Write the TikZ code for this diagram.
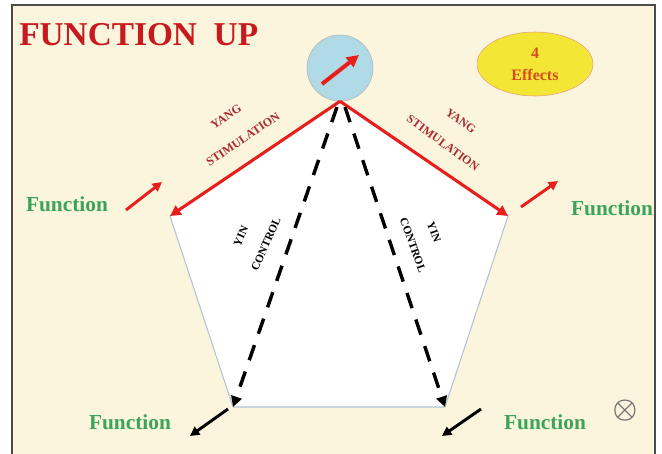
\documentclass[tikz,border=0pt]{standalone}
\usepackage{fontspec}
\setmainfont{Liberation Serif}
\usetikzlibrary{arrows.meta,shapes.geometric}
\definecolor{creme}{RGB}{251,245,221}
\definecolor{rougetitre}{RGB}{200,26,30}
\definecolor{rougeyang}{RGB}{170,42,50}
\definecolor{rougeligne}{RGB}{232,30,28}
\definecolor{vertfct}{RGB}{60,163,92}
\definecolor{bleuciel}{RGB}{176,218,230}
\definecolor{jaune}{RGB}{244,230,52}
\definecolor{orangetxt}{RGB}{212,78,32}
\definecolor{bordpenta}{RGB}{178,196,210}

\begin{document}
\begin{tikzpicture}[x=0.75pt,y=-0.75pt]
\tikzset{fonction/.style={text=vertfct, inner sep=0pt, anchor=base, font=\bfseries\fontsize{16}{18}\selectfont},
  yangtxt/.style={text=rougeyang, inner sep=0pt, font=\bfseries\fontsize{9}{10}\selectfont},
  yintxt/.style={text=black, inner sep=0pt, font=\bfseries\fontsize{8.5}{10}\selectfont},
  fleche/.style={line width=2.2pt, -{Triangle[length=7pt,width=7pt]}},
  cote/.style={rougeligne, line width=2.3pt, -{Triangle[length=8pt,width=8pt]}},
  tiret/.style={line width=2.6pt, dash pattern=on 12pt off 9pt, -{Triangle[length=8pt,width=8pt]}}}
\useasboundingbox (0,0) rectangle (662,454);
\fill[creme] (12,5) rectangle (655,454);
\draw[gray!60!black, line width=0.8pt] (12,454) -- (12,5) -- (655,5) -- (655,454);
% pentagone
\coordinate (haut) at (340,102);
\coordinate (gauche) at (170,216);
\coordinate (droite) at (508,216);
\coordinate (basg) at (233,407);
\coordinate (basd) at (445,407);
\filldraw[fill=white, draw=bordpenta, line width=0.8pt] (haut) -- (gauche) -- (basg) -- (basd) -- (droite) -- cycle;
\node[draw=gray!60, fill=bleuciel, circle, minimum size=49.5pt, inner sep=0pt] (soleil) at (340,68) {};
\node[draw=brown!70!red!60, fill=jaune, ellipse, minimum width=87pt, minimum height=48pt, align=center,
  text=orangetxt, font=\bfseries\fontsize{12}{16.5}\selectfont] (effets) at (535,64) {4\\Effects};
\node[anchor=base west, inner sep=0pt, text=rougetitre, font=\bfseries\fontsize{25}{28}\selectfont] (titre) at (19,45) {FUNCTION\ \ UP};
% fleches
\coordinate (s1) at (322,84);
\coordinate (s2) at (359,55);
\draw[rougeligne, line width=3pt, -{Triangle[length=9pt,width=9pt]}] (s1) -- (s2);
\draw[cote] (soleil.south) -- (gauche);
\draw[cote] (soleil.south) -- (droite);
\coordinate (da) at (337,107);
\coordinate (db) at (345,107);
\draw[tiret] (da) -- (basg);
\draw[tiret] (db) -- (basd);
\node[yangtxt, rotate=34] (yang1) at (226,117) {YANG};
\node[yangtxt, rotate=34] (stim1) at (243,139) {STIMULATION};
\node[yangtxt, rotate=-36] (yang2) at (461,121) {YANG};
\node[yangtxt, rotate=-36] (stim2) at (443,143) {STIMULATION};
\node[yintxt, rotate=66] (yin1) at (241,236) {YIN};
\node[yintxt, rotate=66] (ctrl1) at (266,244) {CONTROL};
\node[yintxt, rotate=-70] (yin2) at (434,232) {YIN};
\node[yintxt, rotate=-70] (ctrl2) at (413,245) {CONTROL};
% fonctions
\node[fonction] (f1) at (67,211) {Function};
\node[fonction] (f2) at (612,215) {Function};
\node[fonction] (f3) at (130,429) {Function};
\node[fonction] (f4) at (545,429) {Function};
\coordinate (a1) at (126,210);
\coordinate (a2) at (162,182);
\coordinate (b1) at (521,207);
\coordinate (b2) at (558,181);
\coordinate (c1) at (228,409);
\coordinate (c2) at (190,436);
\coordinate (d1) at (481,409);
\coordinate (d2) at (442,436);
\draw[fleche, rougeligne] (a1) -- (a2);
\draw[fleche, rougeligne] (b1) -- (b2);
\draw[fleche, black] (c1) -- (c2);
\draw[fleche, black] (d1) -- (d2);
\node[text=gray!90!black, font=\fontsize{22}{24}\selectfont\boldmath, inner sep=0pt] (croix) at (625,411) {$\otimes$};
\end{tikzpicture}
\end{document}
